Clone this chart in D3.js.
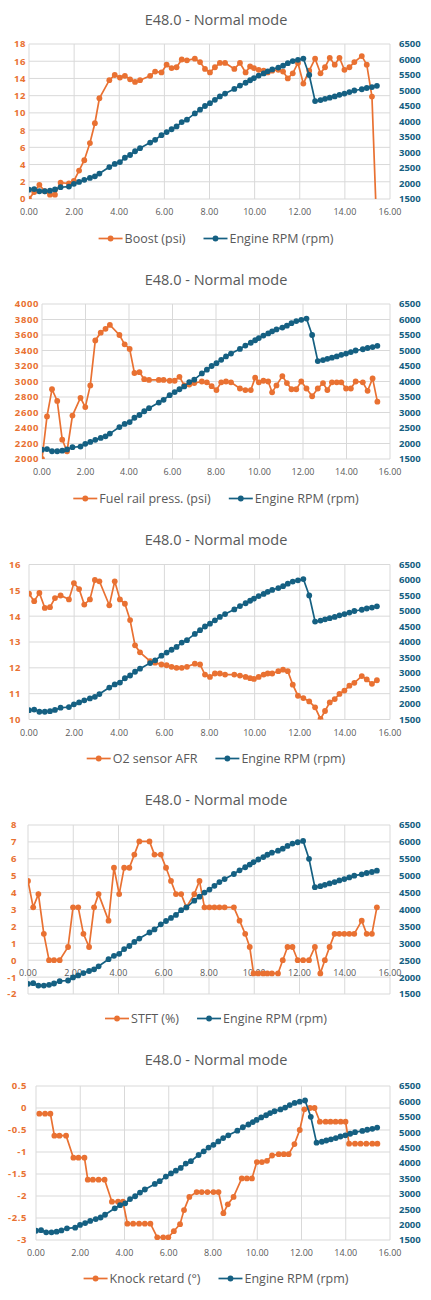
<!DOCTYPE html>
<html>
<head>
<meta charset="utf-8">
<script src="https://cdn.jsdelivr.net/npm/d3@7"></script>
<style>
body { margin: 0; background: #fff; }
text { font-family: "Open Sans", sans-serif; }
</style>
</head>
<body>
<div id="charts"></div>
<script>
// time (s) of each logged sample
let time = [0.00,0.23,0.46,0.70,0.93,1.15,1.40,1.77,1.99,2.22,
  2.45,2.70,2.92,3.12,3.56,3.80,4.03,4.25,4.48,4.70,
  4.92,5.37,5.59,5.87,6.10,6.32,6.54,6.77,7.00,7.35,
  7.58,7.80,8.02,8.24,8.46,8.69,9.10,9.35,9.60,9.80,
  9.97,10.18,10.40,10.58,10.78,11.05,11.26,11.47,11.69,11.92,
  12.16,12.42,12.68,12.92,13.12,13.33,13.55,13.76,13.98,14.20,
  14.42,14.75,14.97,15.20,15.42];

let rpm = [1800,1820,1750,1750,1770,1810,1880,1900,1990,2050,
  2120,2180,2230,2320,2530,2630,2690,2830,2920,3040,
  3140,3320,3410,3560,3660,3750,3840,3980,4060,4260,
  4380,4500,4590,4700,4810,4900,5050,5160,5250,5330,
  5400,5480,5550,5620,5680,5740,5800,5880,5950,5990,
  6030,5500,4660,4690,4730,4770,4810,4860,4900,4950,
  5000,5040,5080,5110,5150];

let boost = [0,0.8,1.65,0.9,0.5,0.5,1.9,1.8,2.1,3.3,
  4.5,6.5,8.8,11.7,13.8,14.4,14.1,14.3,13.9,13.6,
  13.8,14.3,14.8,14.7,15.6,15.2,15.3,16.2,16.1,16.3,
  15.9,15.1,14.7,15.3,15.8,15.8,15.1,15.8,14.7,15.4,
  15.2,15.0,14.9,14.7,14.9,15.0,14.8,14.0,14.6,15.8,
  13.4,14.9,16.3,14.6,15.3,16.4,15.6,16.4,15.0,15.3,
  15.9,16.6,15.6,11.9,-4];

let fuelRail = [2000,2550,2900,2750,2250,2100,2560,2790,2670,2950,
  3530,3630,3680,3730,3600,3480,3420,3110,3120,3030,
  3020,3020,3020,3010,3010,3060,2950,2960,2980,3000,
  2990,2940,2890,2990,3000,2990,2910,2890,2890,3050,
  2990,3010,3000,2860,2950,3070,2980,2900,2900,3000,
  2910,2810,2910,2980,2890,2990,2990,2990,2910,2910,
  3000,2990,2880,3040,2740];

let afr = [14.87,14.58,14.9,14.32,14.35,14.7,14.8,14.65,15.28,15.05,
  14.45,14.65,15.4,15.35,14.42,15.35,14.65,14.48,13.85,12.87,
  12.6,12.26,12.2,12.13,12.1,12.04,12.0,12.0,12.04,12.16,
  12.13,11.74,11.65,11.78,11.78,11.74,11.74,11.7,11.65,11.6,
  11.57,11.65,11.74,11.78,11.78,11.87,11.93,11.87,11.35,10.92,
  10.83,10.7,10.47,10.02,10.33,10.66,10.79,10.99,11.12,11.31,
  11.42,11.68,11.55,11.38,11.52];

let stft = [4.69,3.13,3.91,1.56,0,0,0,0.78,3.13,3.13,
  1.56,0.78,3.13,3.91,2.34,5.47,3.91,5.47,5.47,6.25,
  7.03,7.03,6.25,6.25,5.47,4.69,3.91,3.91,3.13,3.91,
  4.69,3.13,3.13,3.13,3.13,3.13,3.13,2.34,1.56,0.78,
  -0.78,-0.78,-0.78,-0.78,-0.78,-0.78,0,0.78,0.78,0,
  0,0,0.78,-0.78,0,0.78,1.56,1.56,1.56,1.56,
  1.56,2.34,1.56,1.56,3.13];

// knock retard is logged at its own time stamps
let knockTime = [0.15,0.41,0.65,0.83,1.06,1.36,1.69,1.92,2.19,2.34,
  2.57,2.83,3.10,3.43,3.71,3.93,4.13,4.39,4.66,4.92,
  5.17,5.48,5.75,5.98,6.23,6.51,6.69,6.93,7.26,7.49,
  7.75,8.02,8.25,8.47,8.67,8.93,9.30,9.53,9.76,9.98,
  10.21,10.44,10.67,10.97,11.20,11.42,11.68,11.92,12.13,12.38,
  12.59,12.83,13.09,13.31,13.54,13.77,13.99,14.15,14.42,14.67,
  14.93,15.20,15.43];

let knock = [-0.13,-0.13,-0.13,-0.63,-0.63,-0.63,-1.13,-1.13,-1.13,-1.63,
  -1.63,-1.63,-1.63,-2.13,-2.13,-2.13,-2.63,-2.63,-2.63,-2.63,
  -2.63,-2.94,-2.94,-2.94,-2.80,-2.64,-2.32,-2.02,-1.91,-1.91,
  -1.91,-1.91,-1.91,-2.39,-2.19,-2.02,-1.60,-1.60,-1.60,-1.23,
  -1.23,-1.20,-1.08,-1.05,-1.05,-1.05,-0.82,-0.50,-0.03,0.00,
  0.00,-0.31,-0.31,-0.31,-0.31,-0.31,-0.31,-0.81,-0.81,-0.81,
  -0.81,-0.81,-0.81];

// axis ticks
let xTicks = [0,2,4,6,8,10,12,14,16];
let rpmTicks = [1500,2000,2500,3000,3500,4000,4500,5000,5500,6000,6500];
let boostTicks = [0,2,4,6,8,10,12,14,16,18];
let fuelTicks = [2000,2200,2400,2600,2800,3000,3200,3400,3600,3800,4000];
let afrTicks = [10,11,12,13,14,15,16];
let stftTicks = [-2,-1,0,1,2,3,4,5,6,7,8];
let knockTicks = [-3,-2.5,-2,-1.5,-1,-0.5,0,0.5];

let title = 'E48.0 - Normal mode';
let rpmName = 'Engine RPM (rpm)';

const orange = '#E97132', blue = '#156082', grid = '#D9D9D9', grey = '#595959';
const panelH = 260, plotRight = 390;

let charts = [
  {name: 'Boost (psi)', tx: time, ty: boost, ticks: boostTicks, left: 29, top: 44, bottom: 199, labelX: 26},
  {name: 'Fuel rail press. (psi)', tx: time, ty: fuelRail, ticks: fuelTicks, left: 42, top: 44, bottom: 199, labelX: 39},
  {name: 'O2 sensor AFR', tx: time, ty: afr, ticks: afrTicks, left: 29, top: 44.5, bottom: 199.5, labelX: 21},
  {name: 'STFT (%)', tx: time, ty: stft, ticks: stftTicks, left: 28, top: 45, bottom: 214, labelX: 17, axisAtZero: true},
  {name: 'Knock retard (\u00B0)', tx: knockTime, ty: knock, ticks: knockTicks, left: 36, top: 46, bottom: 200, labelX: 27}
];

let svg = d3.select('#charts').append('svg')
  .attr('width', 431)
  .attr('height', 1300);

charts.forEach((c, i) => {
  let g = svg.append('g').attr('transform', `translate(0,${i * panelH})`);

  let x = d3.scaleLinear().domain([0, 16]).range([c.left, plotRight]);
  let y = d3.scaleLinear().domain(d3.extent(c.ticks)).range([c.bottom, c.top]);
  let yR = d3.scaleLinear().domain([1500, 6500]).range([c.bottom, c.top]);

  // title
  g.append('text')
    .attr('x', 216).attr('y', 25)
    .attr('text-anchor', 'middle')
    .style('font-size', '14.5px')
    .attr('fill', grey)
    .text(title);

  // gridlines
  g.selectAll('.hgrid').data(c.ticks).join('line')
    .attr('x1', c.left).attr('x2', plotRight)
    .attr('y1', d => y(d)).attr('y2', d => y(d))
    .attr('stroke', grid).attr('stroke-width', 1);
  g.selectAll('.vgrid').data(xTicks).join('line')
    .attr('x1', d => x(d)).attr('x2', d => x(d))
    .attr('y1', c.top).attr('y2', c.bottom)
    .attr('stroke', grid).attr('stroke-width', 1);

  // left axis labels
  g.selectAll('.ly').data(c.ticks).join('text')
    .attr('x', c.labelX).attr('y', d => y(d) + 3.4)
    .attr('text-anchor', 'end')
    .style('font-size', '9.5px').style('font-weight', 'bold')
    .style('letter-spacing', '0.6px')
    .attr('fill', orange)
    .text(d => String(d));

  // right axis labels
  g.selectAll('.ry').data(rpmTicks).join('text')
    .attr('x', 399).attr('y', d => yR(d) + 3.4)
    .style('font-size', '9.5px').style('font-weight', 'bold')
    .attr('fill', blue)
    .text(d => d);

  // x axis labels
  let xLabelY = c.axisAtZero ? y(0) : c.bottom;
  g.selectAll('.lx').data(xTicks).join('text')
    .attr('x', d => x(d)).attr('y', xLabelY + 16)
    .attr('text-anchor', 'middle')
    .style('font-size', '9px')
    .attr('fill', grey)
    .text(d => d.toFixed(2));

  // clip to plot area
  let clipId = 'clip' + i;
  g.append('clipPath').attr('id', clipId)
    .append('rect')
    .attr('x', c.left).attr('y', c.top - 4)
    .attr('width', plotRight - c.left + 4).attr('height', c.bottom - c.top + 4);

  let series = [
    {xs: c.tx, ys: c.ty, sc: y, color: orange},
    {xs: time, ys: rpm, sc: yR, color: blue}
  ];

  series.forEach(s => {
    let pts = s.xs.map((t, k) => [t, s.ys[k]]);
    let line = d3.line().x(d => x(d[0])).y(d => s.sc(d[1]));
    let sg = g.append('g').attr('clip-path', `url(#${clipId})`);
    sg.append('path')
      .datum(pts)
      .attr('d', line)
      .attr('fill', 'none')
      .attr('stroke', s.color)
      .attr('stroke-width', 1.7);
    sg.selectAll('circle').data(pts.filter(d => s.sc(d[1]) <= c.bottom + 1)).join('circle')
      .attr('cx', d => x(d[0])).attr('cy', d => s.sc(d[1]))
      .attr('r', 2.9)
      .attr('fill', s.color);
  });

  // legend
  let legY = 238.5;
  let leg = g.append('g');
  let items = [{name: c.name, color: orange}, {name: rpmName, color: blue}];
  let cursor = 0;
  items.forEach((it, k) => {
    let ig = leg.append('g').attr('transform', `translate(${cursor},0)`);
    ig.append('line')
      .attr('x1', 0).attr('x2', 24)
      .attr('y1', legY).attr('y2', legY)
      .attr('stroke', it.color).attr('stroke-width', 1.7);
    ig.append('circle')
      .attr('cx', 12).attr('cy', legY).attr('r', 2.9)
      .attr('fill', it.color);
    let t = ig.append('text')
      .attr('x', 26).attr('y', legY + 4.4)
      .style('font-size', '12.5px')
      .attr('fill', grey)
      .text(it.name);
    cursor += 26 + t.node().getComputedTextLength() + 18;
  });
  let legW = cursor - 18;
  leg.attr('transform', `translate(${216 - legW / 2},0)`);
});
</script>
</body>
</html>
